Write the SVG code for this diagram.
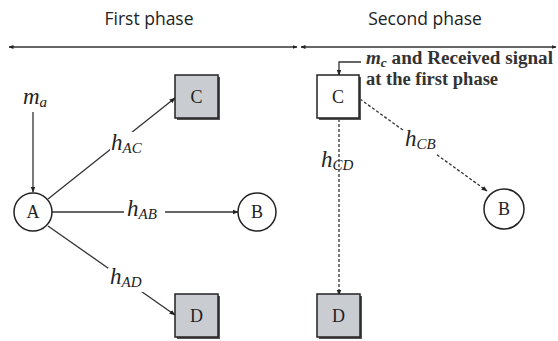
<svg xmlns="http://www.w3.org/2000/svg" width="558" height="341" viewBox="0 0 558 341">
<defs>
<marker id="ar" viewBox="0 0 10 10" refX="9" refY="5" markerWidth="6" markerHeight="6" orient="auto-start-reverse" markerUnits="userSpaceOnUse">
<path d="M0,1 L10,5 L0,9 z" fill="#222"/>
</marker>
<marker id="as" viewBox="0 0 10 10" refX="9" refY="5" markerWidth="5" markerHeight="5" orient="auto-start-reverse" markerUnits="userSpaceOnUse">
<path d="M0,1 L10,5 L0,9 z" fill="#222"/>
</marker>
</defs>
<style>
.hdr{font-family:"Open Sans","Noto Sans",sans-serif;font-size:17.5px;fill:#222;text-anchor:middle}
.ln{stroke:#333;stroke-width:1.3;fill:none}
.dl{stroke:#333;stroke-width:1.3;fill:none;stroke-dasharray:3,2}
.lbl{font-family:"Liberation Serif",serif;font-style:italic;font-size:23px;fill:#222}
.sub{font-size:15px}
.nd{font-family:"Liberation Serif",serif;font-size:18px;fill:#222;text-anchor:middle}
.gbox{fill:#c9cdd1;stroke:#222;stroke-width:1.5}
.wbox{fill:#fff;stroke:#222;stroke-width:1.5}
.shd{fill:#555}
.circ{fill:#fff;stroke:#222;stroke-width:1.5}
.note{font-family:"Liberation Serif",serif;font-size:18.5px;font-weight:bold;fill:#333}
</style>
<rect width="558" height="341" fill="#fff"/>
<text class="hdr" x="149" y="25">First phase</text>
<text class="hdr" x="425" y="25">Second phase</text>
<g id="connectors">
<line class="ln" x1="9" y1="47" x2="297" y2="47" marker-start="url(#as)" marker-end="url(#as)"/>
<line class="ln" x1="301" y1="47" x2="556" y2="47" marker-start="url(#as)" marker-end="url(#as)"/>
<line class="ln" x1="33" y1="112" x2="33" y2="192" marker-end="url(#ar)"/>
<line class="ln" x1="48" y1="199" x2="175" y2="98" marker-end="url(#ar)"/>
<line class="ln" x1="52" y1="212" x2="238" y2="212" marker-end="url(#ar)"/>
<line class="ln" x1="48" y1="226" x2="175" y2="315" marker-end="url(#ar)"/>
<polyline class="ln" points="361,62 339,62 339,75" marker-end="url(#ar)"/>
<line class="dl" x1="360" y1="99" x2="487" y2="191" marker-end="url(#ar)"/>
<line class="dl" x1="339" y1="119" x2="339" y2="295" marker-end="url(#ar)"/>
</g>
<g id="labels">
<text class="lbl" x="35" y="104" text-anchor="middle">m<tspan class="sub" dy="3">a</tspan></text>
<rect x="110" y="132" width="38" height="23" fill="#fff"/>
<text class="lbl" x="111" y="150">h<tspan class="sub" dy="3">AC</tspan></text>
<rect x="124" y="200" width="41" height="24" fill="#fff"/>
<text class="lbl" x="127" y="216">h<tspan class="sub" dy="3">AB</tspan></text>
<rect x="108" y="268" width="41" height="24" fill="#fff"/>
<text class="lbl" x="110" y="284">h<tspan class="sub" dy="3">AD</tspan></text>
<rect x="403" y="130" width="40" height="24" fill="#fff"/>
<text class="lbl" x="405" y="146">h<tspan class="sub" dy="3">CB</tspan></text>
<text class="lbl" x="321" y="167">h<tspan class="sub" dy="3">CD</tspan></text>
<text class="note" x="366" y="64" textLength="187" lengthAdjust="spacingAndGlyphs"><tspan font-style="italic">m<tspan font-size="13" dy="3">c</tspan></tspan><tspan dy="-3"> and Received signal</tspan></text>
<text class="note" x="366" y="85">at the first phase</text>
</g>
<g id="nodeA"><circle class="circ" cx="33" cy="212" r="19"/><text class="nd" x="33" y="218">A</text></g>
<g id="nodeB"><circle class="circ" cx="257" cy="212" r="19"/><text class="nd" x="257" y="218">B</text></g>
<g id="nodeC"><rect class="shd" x="177" y="77" width="43" height="43"/><rect class="gbox" x="175" y="75" width="43" height="43"/><text class="nd" x="196.5" y="103">C</text></g>
<g id="nodeD"><rect class="shd" x="177" y="296" width="43" height="43"/><rect class="gbox" x="175" y="294" width="43" height="43"/><text class="nd" x="196.5" y="322">D</text></g>
<g id="nodeC2"><rect class="shd" x="319" y="77" width="42" height="43"/><rect class="wbox" x="317" y="75" width="42" height="43"/><text class="nd" x="338" y="103">C</text></g>
<g id="nodeD2"><rect class="shd" x="319" y="296" width="43" height="43"/><rect class="gbox" x="317" y="294" width="43" height="43"/><text class="nd" x="338.5" y="322">D</text></g>
<g id="nodeB2"><circle class="circ" cx="504" cy="209" r="20"/><text class="nd" x="504" y="215">B</text></g>
</svg>
